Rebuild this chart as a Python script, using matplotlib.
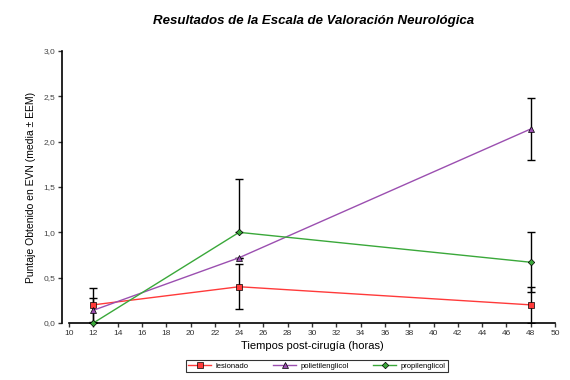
import matplotlib
matplotlib.use("Agg")
import matplotlib.pyplot as plt
from matplotlib.ticker import FuncFormatter

plt.rcParams['font.family'] = ['Liberation Sans', 'DejaVu Sans']

hours = [12, 24, 48]
series = ["lesionado", "polietilenglicol", "propilenglicol"]
lesionado = [0.20, 0.40, 0.20]
lesionado_err_lo = [0.19, 0.25, 0.20]
lesionado_err_hi = [0.19, 0.25, 0.20]
polietilenglicol = [0.14, 0.72, 2.14]
polietilenglicol_err_lo = [0.14, 0.0, 0.34]
polietilenglicol_err_hi = [0.14, 0.0, 0.34]
propilenglicol = [0.0, 1.0, 0.67]
propilenglicol_err_lo = [0.0, 0.0, 0.33]
propilenglicol_err_hi = [0.0, 0.59, 0.33]

colors = ["#ff3a3a", "#9b4fb0", "#3aa83a"]
markers = ["s", "^", "D"]
msizes = [4, 4, 3.3]

fig = plt.figure(figsize=(5.7, 3.8), dpi=100)
ax = fig.add_axes([69/570, 1-323/380, (555-69)/570, (323-51)/380])

data = [(lesionado, lesionado_err_lo, lesionado_err_hi),
        (polietilenglicol, polietilenglicol_err_lo, polietilenglicol_err_hi),
        (propilenglicol, propilenglicol_err_lo, propilenglicol_err_hi)]

handles = []
for (vals, lo, hi), name, c, m, ms in zip(data, series, colors, markers, msizes):
    ax.errorbar(hours, vals, yerr=[lo, hi], fmt='none', ecolor='black',
                elinewidth=1.0, capsize=3, capthick=1.0, zorder=2)
    h, = ax.plot(hours, vals, color=c, lw=1.0, marker=m, ms=ms,
                 markerfacecolor=c, markeredgecolor='black', markeredgewidth=0.5,
                 label=name, zorder=3, clip_on=False)
    handles.append(h)

ax.set_xlim(10, 50)
ax.set_ylim(0, 3.0)
ax.set_xticks(range(10, 51, 2))
ax.set_yticks([0, 0.5, 1.0, 1.5, 2.0, 2.5, 3.0])
ax.yaxis.set_major_formatter(FuncFormatter(lambda v, p: f"{v:.1f}".replace('.', ',')))
ax.spines['top'].set_visible(False)
ax.spines['right'].set_visible(False)
ax.spines['left'].set_position(('outward', 5))
ax.spines['left'].set_linewidth(1.2)
ax.spines['bottom'].set_linewidth(1.2)
ax.tick_params(axis='both', labelsize=6, length=3, width=1.0, pad=2, colors='#333333')
ax.tick_params(axis='y', labelcolor='#444444')

ax.set_xlabel("Tiempos post-cirugía (horas)", fontsize=8, labelpad=3)
ax.set_ylabel("Puntaje Obtenido en EVN (media ± EEM)", fontsize=7.5, labelpad=5)

fig.text(0.55, 0.945, "Resultados de la Escala de Valoración Neurológica",
         ha='center', va='center', fontsize=9.5, fontweight='bold', fontstyle='italic')

leg = fig.legend(handles=handles, labels=series, loc='center',
                 bbox_to_anchor=(317/570, 1-366/380), ncol=3, fontsize=5.5,
                 frameon=True, fancybox=False, edgecolor='black',
                 handlelength=3.0, columnspacing=3.2, borderpad=0.35, handletextpad=0.6)
leg.get_frame().set_linewidth(0.8)

fig.savefig("out.png", dpi=100)
